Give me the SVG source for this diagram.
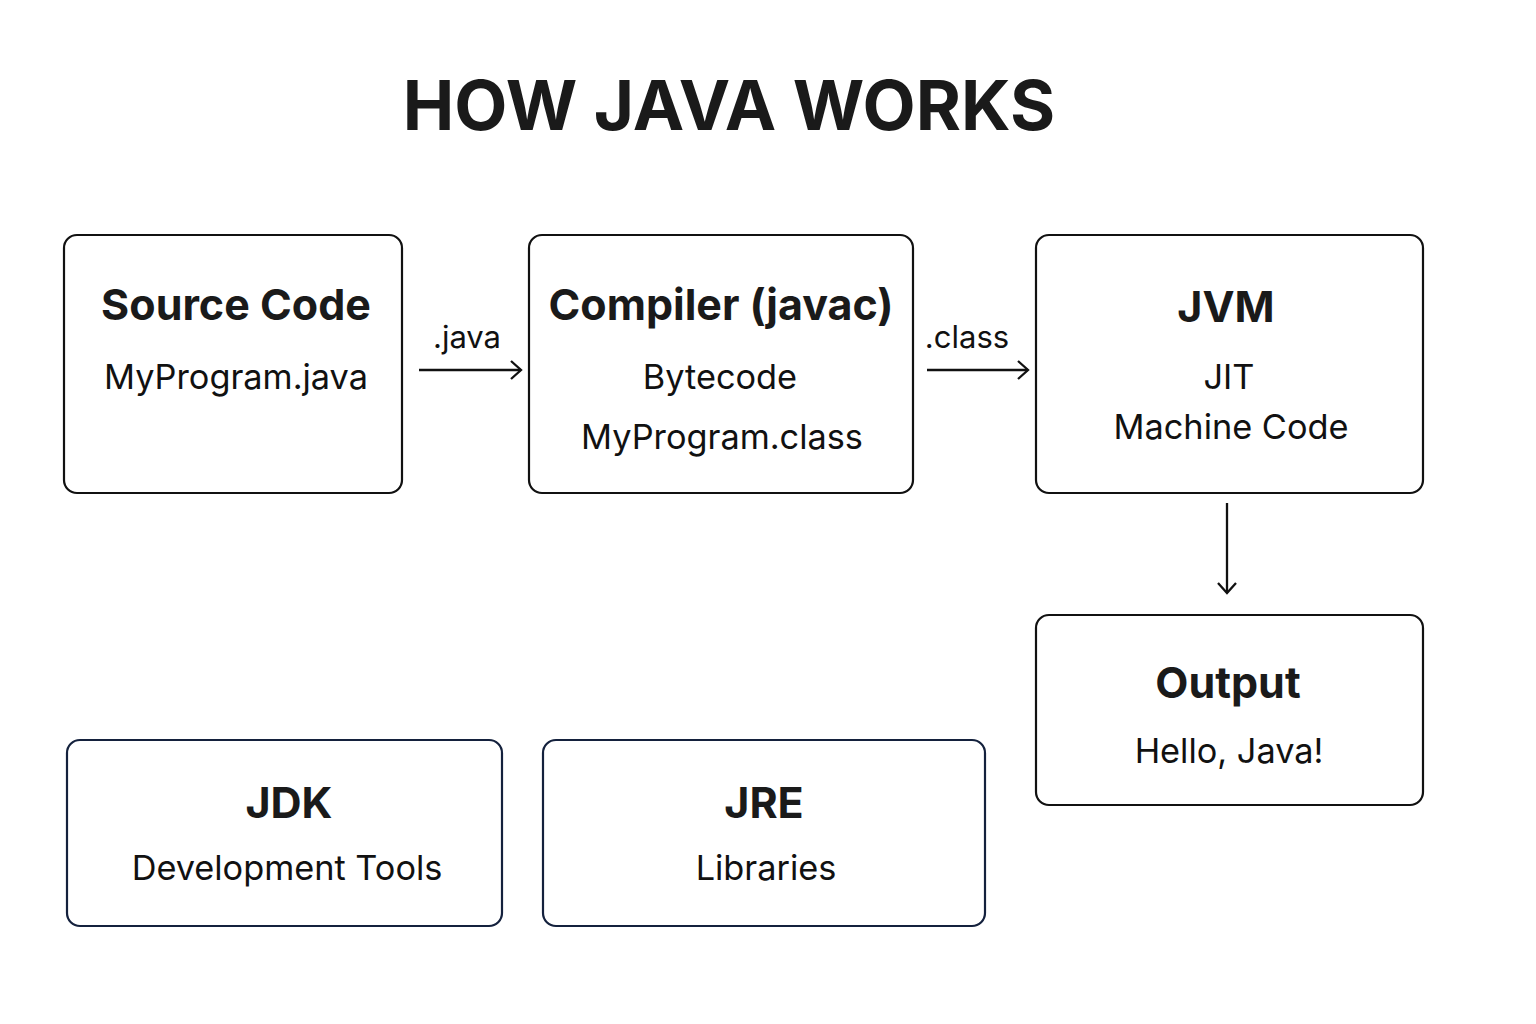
<svg xmlns="http://www.w3.org/2000/svg" width="1536" height="1024" viewBox="0 0 1536 1024">
<defs>
<style>
.box{fill:#fff;stroke:#111;stroke-width:2.2}
.box2{fill:#fff;stroke:#14213d;stroke-width:2.2}
.t{font-family:Inter,"Liberation Sans",sans-serif;font-weight:700;font-size:43px;fill:#1a1a1a;text-anchor:middle}
.s{font-family:Inter,"Liberation Sans",sans-serif;font-weight:400;font-size:34.3px;fill:#111;text-anchor:middle}
.l{font-family:Inter,"Liberation Sans",sans-serif;font-weight:400;font-size:31px;fill:#111;text-anchor:middle}
.c{stroke:#111;stroke-width:2.3;fill:none}
</style>
<marker id="ah" markerWidth="14" markerHeight="20" refX="12" refY="10" orient="auto" markerUnits="userSpaceOnUse">
<path d="M2,1 L12,10 L2,19" fill="none" stroke="#111" stroke-width="2.3"/>
</marker>
</defs>
<rect width="1536" height="1024" fill="#fff"/>
<text x="729" y="130" font-family="Inter,'Liberation Sans',sans-serif" font-weight="700" font-size="69" fill="#1a1a1a" text-anchor="middle">HOW JAVA WORKS</text>

<g id="source">
<rect class="box" x="64" y="235" width="338" height="258" rx="13"/>
<text class="t" x="236" y="320">Source Code</text>
<text class="s" x="236" y="389">MyProgram.java</text>
</g>
<g id="compiler">
<rect class="box" x="529" y="235" width="384" height="258" rx="13"/>
<text class="t" x="721" y="320">Compiler (javac)</text>
<text class="s" x="720" y="389">Bytecode</text>
<text class="s" x="722" y="449">MyProgram.class</text>
</g>
<g id="jvm">
<rect class="box" x="1036" y="235" width="387" height="258" rx="13"/>
<text class="t" x="1226" y="322">JVM</text>
<text class="s" x="1229" y="389">JIT</text>
<text class="s" x="1231" y="439">Machine Code</text>
</g>
<g id="output">
<rect class="box" x="1036" y="615" width="387" height="190" rx="13"/>
<text class="t" x="1228" y="698">Output</text>
<text class="s" x="1229" y="763">Hello, Java!</text>
</g>
<g id="jdk">
<rect class="box2" x="67" y="740" width="435" height="186" rx="13"/>
<text class="t" x="289" y="818">JDK</text>
<text class="s" x="287" y="880">Development Tools</text>
</g>
<g id="jre">
<rect class="box2" x="543" y="740" width="442" height="186" rx="13"/>
<text class="t" x="764" y="818">JRE</text>
<text class="s" x="766" y="880">Libraries</text>
</g>

<g id="connectors">
<line class="c" x1="419" y1="370" x2="521" y2="370" marker-end="url(#ah)"/>
<text class="l" x="467" y="348">.java</text>
<line class="c" x1="927" y1="370" x2="1028" y2="370" marker-end="url(#ah)"/>
<text class="l" x="967" y="348">.class</text>
<line class="c" x1="1227" y1="503" x2="1227" y2="593" marker-end="url(#ah)"/>
</g>
</svg>
